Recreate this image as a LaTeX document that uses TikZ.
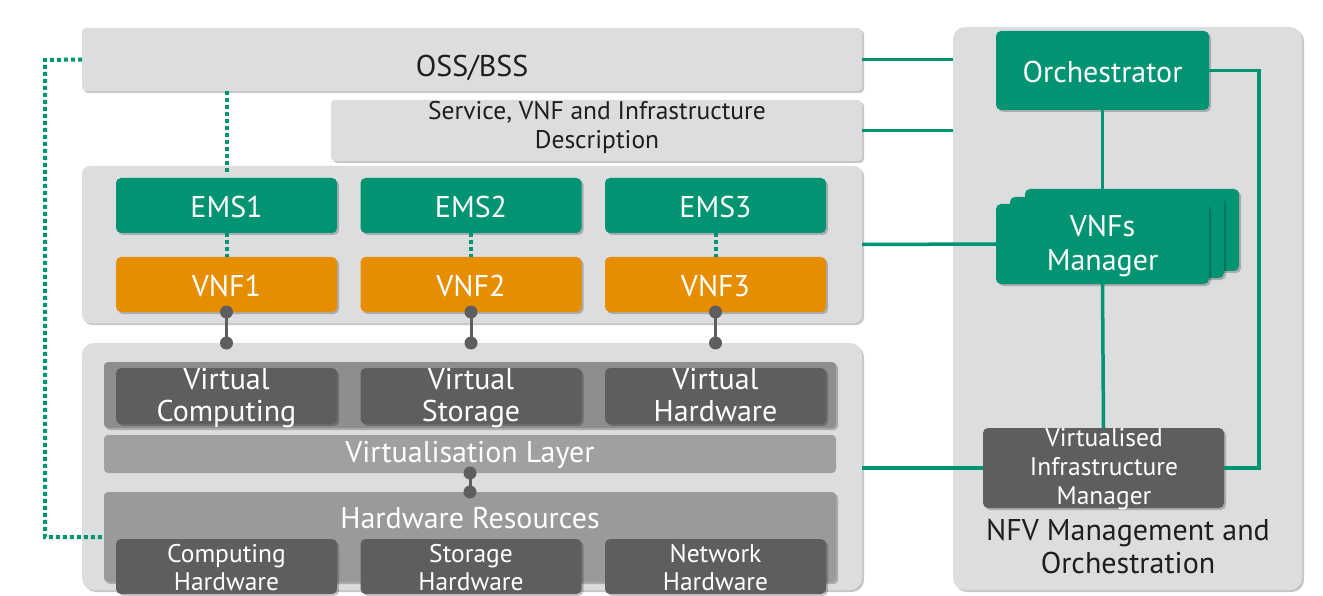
\documentclass[tikz,border=0pt]{standalone}
\usepackage{fontspec}
\setmainfont{PT Sans}
\usetikzlibrary{shadows}
\definecolor{grn}{HTML}{009473}
\definecolor{org}{HTML}{E68E00}
\definecolor{dk}{HTML}{5E5E5E}
\definecolor{pnl}{HTML}{DCDDDF}
\definecolor{vband}{HTML}{8E8E8E}
\definecolor{layer}{HTML}{A0A0A0}
\definecolor{hwband}{HTML}{9A9A9A}
\definecolor{txt}{HTML}{1E1E1E}
\tikzset{
  sz/.style 2 args={minimum width=#1pt, minimum height=#2pt, inner sep=0pt, outer sep=0pt},
  shad/.style={drop shadow={shadow xshift=2pt, shadow yshift=-2pt, opacity=0.22, fill=black}},
  panel/.style={fill=pnl, rounded corners=12pt, shad},
  bar/.style={fill=pnl, rounded corners=4pt, shad},
  gbox/.style={fill=grn, rounded corners=5pt, shad},
  obox/.style={fill=org, rounded corners=5pt, shad},
  dbox/.style={fill=dk, rounded corners=5pt, shad},
  bigw/.style={text=white, font=\fontsize{30}{32}\selectfont, align=center, inner sep=0pt},
  smw/.style={text=white, font=\fontsize{25.5}{28}\selectfont, align=center, inner sep=0pt},
  darkt/.style={text=txt, align=center, inner sep=0pt},
  gline/.style={draw=grn, line width=3.5pt},
  gdot/.style={draw=grn, line width=4pt, dash pattern=on 4pt off 3pt},
  link/.style={draw=dk, line width=3pt},
  dotend/.style={fill=dk},
}
\begin{document}
\begin{tikzpicture}[x=1pt, y=-1pt]
\useasboundingbox (0,0) rectangle (1323,596);
\fill[white] (0,0) rectangle (1323,596);

% right panel
\node[panel, sz={349}{563}] (rp) at (1127.5,308.5) {};
% left structure
\node[bar, sz={780}{63}] (oss) at (472,59.5) {};
\node[darkt, font=\fontsize{30}{32}\selectfont] (ossT) at (472,68) {OSS/BSS};
\node[bar, sz={531}{61}] (svc) at (596.5,130.5) {};
\node[darkt, font=\fontsize{25.5}{29}\selectfont] (svcT) at (597,127) {Service, VNF and Infrastructure\\Description};

\node[panel, rounded corners=8pt, sz={780}{157}] (vp) at (472,244.5) {};
\node[panel, sz={780}{247}] (ip) at (472,466.5) {};

% EMS / VNF
\foreach \i/\x in {1/226.5, 2/471, 3/715.5}{
  \node[gbox, sz={221}{55}] (ems\i) at (\x,205.5) {};
  \node[bigw] (emsT\i) at (\x,207) {EMS\i};
  \node[obox, sz={221}{55}] (vnf\i) at (\x,284.5) {};
  \node[bigw] (vnfT\i) at (\x,286) {VNF\i};
}

% infrastructure
\node[fill=vband, rounded corners=4pt, shad, sz={732}{66}] (vb) at (470,395) {};
\node[fill=layer, rounded corners=4pt, sz={732}{38}] (vl) at (470,454) {};
\node[bigw] (vlT) at (470,455) {Virtualisation Layer};
\node[fill=hwband, rounded corners=4pt, shad, sz={732}{90}] (hb) at (470,537) {};
\node[bigw] (hbT) at (470,518) {Hardware Resources};

\foreach \i/\x/\a/\b in {1/226.5/Virtual/Computing, 2/471/Virtual/Storage, 3/715.5/Virtual/Hardware}{
  \node[dbox, sz={221}{56}] (vc\i) at (\x,396) {};
  \node[bigw] (vcT\i) at (\x,398) {\a\\\b\vphantom{g}};
}
\foreach \i/\x/\a/\b in {1/226.5/Computing/Hardware, 2/471/Storage/Hardware, 3/715.5/Network/Hardware}{
  \node[dbox, sz={221}{55}] (hw\i) at (\x,566.5) {};
  \node[smw] (hwT\i) at (\x,570) {\a\\\b\vphantom{g}};
}

% MANO
\node[gbox, sz={213}{79}] (orch) at (1102.5,70.5) {};
\node[bigw] (orchT) at (1102.5,72) {Orchestrator};
\node[gbox, sz={214}{82}] (vm3) at (1132,230) {};
\node[gbox, sz={214}{81}] (vm2) at (1117,237.5) {};
\node[gbox, sz={213}{80}] (vnfm) at (1102.5,244) {};
\node[bigw, font=\fontsize{30}{34}\selectfont] (vnfmT) at (1102.5,246) {VNFs\\Manager};
\node[dbox, sz={241}{80}] (vim) at (1103.5,468) {};
\node[smw, font=\fontsize{25.5}{29}\selectfont] (vimT) at (1104,469) {Virtualised\\Infrastructure\\Manager};
\node[darkt, font=\fontsize{30}{33}\selectfont] (nfvT) at (1128,547) {NFV Management and\\Orchestration};

% green dotted connectors
\coordinate (lt) at (45,60);
\coordinate (lb) at (45,537);
\draw[gdot] (oss.west) -- (lt) -- (lb) -- (hb.west |- lb);
\draw[gdot] (oss.south -| ems1.north) -- ([yshift=4pt]ems1.north);
\foreach \i in {1,2,3}{
  \draw[gdot] (ems\i.south) -- (vnf\i.north);
}

% grey links with dot ends
\foreach \i in {1,2,3}{
  \draw[link] (vnf\i.south) -- (vnf\i.south |- ip.north);
  \fill[dotend] (vnf\i.south) circle (6.5pt);
  \fill[dotend] (vnf\i.south |- ip.north) circle (6.5pt);
}
\draw[link] (vl.south) -- (hb.north);
\fill[dotend] (vl.south) circle (6.5pt);
\fill[dotend] (hb.north) circle (6.5pt);

% green solid connectors
\draw[gline] (oss.east) -- (oss.east -| rp.west);
\draw[gline] (svc.east) -- (svc.east -| rp.west);
\draw[gline] (vp.east) -- (vnfm.west);
\draw[gline] (vim.west -| ip.east) -- (vim.west);
\draw[gline] (orch.south) -- (vnfm.north);
\draw[gline] (vnfm.south) -- (vim.north);
\coordinate (rr) at (1259,300);
\draw[gline] (orch.east) -| (rr) |- (vim.east);
\end{tikzpicture}
\end{document}
